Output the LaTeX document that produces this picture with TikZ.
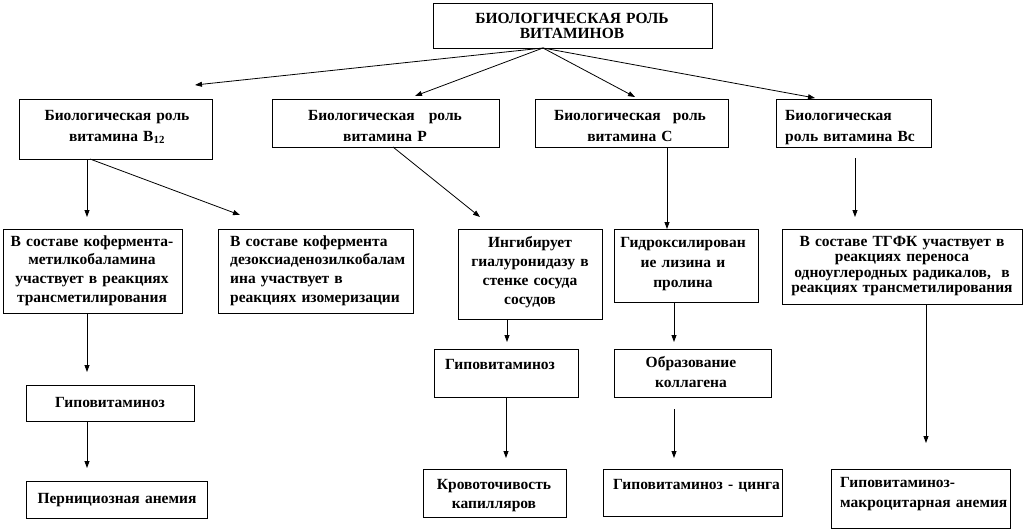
\documentclass[tikz,border=0pt]{standalone}
\usepackage{fontspec}
\setmainfont{Liberation Serif}
\usetikzlibrary{arrows.meta}
\begin{document}
\begin{tikzpicture}[x=1pt,y=-1pt,
  box/.style={draw, line width=0.8pt, inner sep=0pt, anchor=north west},
  txt/.style={inner sep=0pt, anchor=base, font=\bfseries\fontsize{15.5}{#1}\selectfont},
  txtl/.style={inner sep=0pt, anchor=base west, align=left, font=\bfseries\fontsize{15.5}{#1}\selectfont},
  arr/.style={line width=0.8pt, -{Triangle[length=7pt,width=5pt]}},
  ln/.style={line width=0.8pt}]
\useasboundingbox (0,0) rectangle (1026,531);

% ---------- boxes ----------
\node[box, minimum width=279pt, minimum height=45pt] (top) at (433,3) {};
\node[box, minimum width=193pt, minimum height=60pt] (b12) at (19,99) {};
\node[box, minimum width=227pt, minimum height=48pt] (p) at (272,99) {};
\node[box, minimum width=193pt, minimum height=48pt] (c) at (535,99) {};
\node[box, minimum width=155pt, minimum height=48pt] (bc) at (776,99) {};
\node[box, minimum width=179pt, minimum height=84pt] (k1) at (3,229) {};
\node[box, minimum width=195pt, minimum height=84pt] (k2) at (218,229) {};
\node[box, minimum width=144pt, minimum height=90pt] (ing) at (458,229) {};
\node[box, minimum width=144pt, minimum height=73pt] (gid) at (614,229) {};
\node[box, minimum width=240pt, minimum height=75pt] (tgfk) at (782,229) {};
\node[box, minimum width=168pt, minimum height=36pt] (hyp1) at (26,385) {};
\node[box, minimum width=144pt, minimum height=48pt] (hyp2) at (434,349) {};
\node[box, minimum width=157pt, minimum height=48pt] (obr) at (614,349) {};
\node[box, minimum width=181pt, minimum height=37pt] (pern) at (26,481) {};
\node[box, minimum width=143pt, minimum height=48pt] (krov) at (423,469) {};
\node[box, minimum width=179pt, minimum height=47pt] (cinga) at (603,469) {};
\node[box, minimum width=179pt, minimum height=59pt] (makro) at (831,469) {};

% ---------- texts ----------
\node[txt=15.5, text width=270pt, align=center] (ttop) at (572,23) {БИОЛОГИЧЕСКАЯ РОЛЬ\\ВИТАМИНОВ};
\node[txt=21, text width=190pt, align=center] (tb12) at (117,120) {Биологическая роль\\витамина В\textsubscript{12}};
\node[txt=21, text width=220pt, align=center] (tp) at (385,120) {Биологическая\hspace{9pt} роль\\витамина Р};
\node[txt=21, text width=190pt, align=center] (tc) at (630,120) {Биологическая\hspace{7pt} роль\\витамина С};
\node[txtl=21, text width=150pt] (tbc) at (785,120) {Биологическая\\роль витамина Вс};
\node[txt=18.7, text width=190pt, align=center] (tk1) at (92,246) {В составе кофермента-\\метилкобаламина\\участвует в реакциях\\трансметилирования};
\node[txtl=18.7, text width=190pt] (tk2) at (230,246) {В составе кофермента\\дезоксиаденозилкобалам\\ина участвует в\\реакциях изомеризации};
\node[txt=19, text width=150pt, align=center] (ting) at (530,247) {Ингибирует\\гиалуронидазу в\\стенке сосуда\\сосудов};
\node[txt=20, text width=150pt, align=center] (tgid) at (683,247) {Гидроксилирован\\ие лизина и\\пролина};
\node[txt=15.5, text width=240pt, align=center] (ttgfk) at (902,246) {В составе ТГФК участвует в\\реакциях переноса\\одноуглеродных радикалов,\ \ в\\реакциях трансметилирования};
\node[txt=19, text width=168pt, align=center] (thyp1) at (110,407) {Гиповитаминоз};
\node[txtl=19, text width=130pt] (thyp2) at (445,369) {Гиповитаминоз};
\node[txt=20, text width=157pt, align=center] (tobr) at (691,367) {Образование\\коллагена};
\node[txt=19, text width=181pt, align=center] (tpern) at (117,503) {Пернициозная анемия};
\node[txt=19, text width=143pt, align=center] (tkrov) at (494,489) {Кровоточивость\\капилляров};
\node[txtl=19, text width=175pt] (tcinga) at (613,489) {Гиповитаминоз - цинга};
\node[txtl=20, text width=175pt] (tmakro) at (840,487) {Гиповитаминоз-\\макроцитарная анемия};

% ---------- connector ends ----------
\coordinate (topout) at (543,48);
\coordinate (tipb12) at (195,85);
\coordinate (tipp) at (415,96);
\coordinate (tipc) at (635,97);
\coordinate (tipbc) at (815,98);
\coordinate (b12a) at (87,159);
\coordinate (b12b) at (90,159);
\coordinate (tipk1) at (87,217);
\coordinate (tipk2) at (240,215);
\coordinate (pout) at (393,147);
\coordinate (tiping) at (480,217);
\coordinate (cout) at (667,147);
\coordinate (tipgid) at (667,229);
\coordinate (bcout) at (855,158);
\coordinate (tiptgfk) at (855,217);
\coordinate (k1out) at (87,313);
\coordinate (tiphyp1) at (87,372);
\coordinate (ingout) at (507,319);
\coordinate (tiphyp2) at (507,342);
\coordinate (gidout) at (674,302);
\coordinate (tipobr) at (674,342);
\coordinate (tgfkout) at (926,304);
\coordinate (tipmakro) at (926,443);
\coordinate (hyp1out) at (87,421);
\coordinate (tippern) at (87,468);
\coordinate (hyp2out) at (506,397);
\coordinate (tipkrov) at (506,458);
\coordinate (obrout) at (674,409);
\coordinate (tipcinga) at (674,458);

% ---------- connectors ----------
\draw[arr] (topout) -- (tipb12);
\draw[arr] (topout) -- (tipp);
\draw[arr] (topout) -- (tipc);
\draw[arr] (topout) -- (tipbc);
\draw[arr] (b12a) -- (tipk1);
\draw[arr] (b12b) -- (tipk2);
\draw[arr] (pout) -- (tiping);
\draw[arr] (cout) -- (tipgid);
\draw[arr] (bcout) -- (tiptgfk);
\draw[arr] (k1out) -- (tiphyp1);
\draw[arr] (ingout) -- (tiphyp2);
\draw[arr] (gidout) -- (tipobr);
\draw[arr] (tgfkout) -- (tipmakro);
\draw[arr] (hyp1out) -- (tippern);
\draw[arr] (hyp2out) -- (tipkrov);
\draw[arr] (obrout) -- (tipcinga);
\end{tikzpicture}
\end{document}
